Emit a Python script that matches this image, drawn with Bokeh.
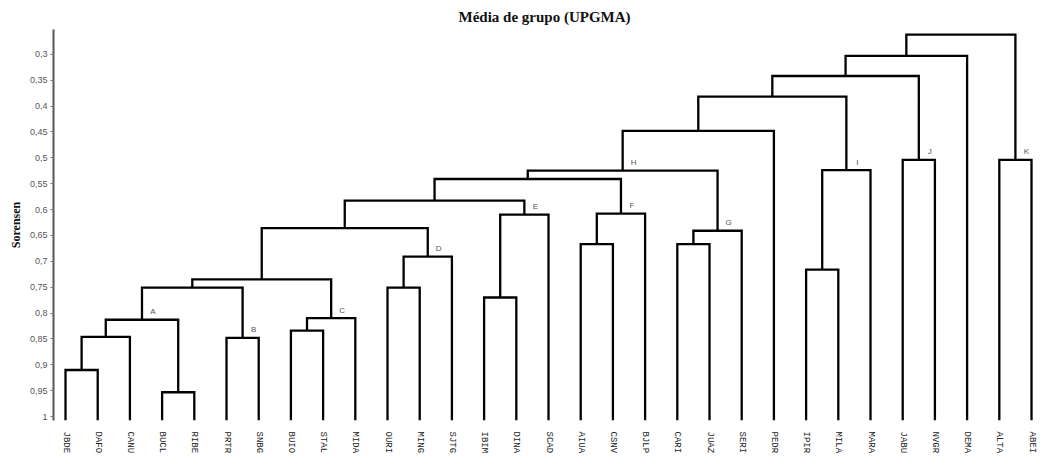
from bokeh.plotting import figure
from bokeh.models import Range1d, FixedTicker
from bokeh.embed import file_html
from bokeh.resources import INLINE
from bokeh.core.properties import value

# ---- data ----
leaves = ["JBDE", "DAFO", "CANU", "BUCL", "RIBE", "PRTR", "SNBG", "BUIO", "STAL", "MIDA",
          "OURI", "MING", "SJTG", "IBIM", "DINA", "SCAD", "AIUA", "CSNV", "BJLP", "CARI",
          "JUAZ", "SERI", "PEDR", "IPIR", "MILA", "MARA", "JABU", "NVGR", "DEMA", "ALTA", "ABEI"]

# merges: ids 0..30 are leaves, merge k gets id 31+k
merge_left = [0, 31, 3, 32, 5, 34, 7, 37, 36, 10, 40, 39, 13, 43, 42, 16, 46, 45, 19, 49,
              48, 51, 23, 53, 52, 26, 55, 57, 29, 58]
merge_right = [1, 2, 4, 33, 6, 35, 8, 9, 38, 11, 12, 41, 14, 15, 44, 17, 18, 47, 20, 21,
               50, 22, 24, 25, 54, 27, 56, 28, 30, 59]
merge_height = [0.910, 0.846, 0.953, 0.813, 0.848, 0.751, 0.834, 0.810, 0.735, 0.751,
                0.691, 0.636, 0.770, 0.610, 0.583, 0.667, 0.608, 0.541, 0.667, 0.641,
                0.525, 0.448, 0.716, 0.524, 0.382, 0.504, 0.342, 0.303, 0.504, 0.262]
merge_label = ["", "", "", "A", "B", "", "", "C", "", "", "D", "", "", "E", "", "", "F", "",
               "", "G", "H", "", "", "I", "", "J", "", "", "K", ""]

y_ticks = [0.3, 0.35, 0.4, 0.45, 0.5, 0.55, 0.6, 0.65, 0.7, 0.75, 0.8, 0.85, 0.9, 0.95, 1.0]
y_tick_labels = ["0,3", "0,35", "0,4", "0,45", "0,5", "0,55", "0,6", "0,65", "0,7", "0,75",
                 "0,8", "0,85", "0,9", "0,95", "1"]

# ---- layout constants ----
Y_BOTTOM = 1.0076
Y_TOP = 0.2522

n = len(leaves)
xpos = {i: float(i) for i in range(n)}
hpos = {i: Y_BOTTOM for i in range(n)}

xs, ys = [], []
lab_x, lab_y, lab_t = [], [], []

for k, (l, r, h, lab) in enumerate(zip(merge_left, merge_right, merge_height, merge_label)):
    cid = n + k
    xl, xr = xpos[l], xpos[r]
    xs.append([xl, xl, xr, xr])
    ys.append([hpos[l], h, h, hpos[r]])
    xpos[cid] = (xl + xr) / 2.0
    hpos[cid] = h
    if lab:
        lab_x.append(xpos[cid])
        lab_y.append(h)
        lab_t.append(lab)

p = figure(width=1037, height=456, output_backend="svg", toolbar_location=None,
           x_range=Range1d(-0.373, 30.186), y_range=Range1d(Y_BOTTOM, Y_TOP),
           title="Média de grupo (UPGMA)",
           min_border_left=53, min_border_right=0, min_border_top=29, min_border_bottom=27)

p.title.text_font = "Liberation Serif"
p.title.text_font_size = "15px"
p.title.text_font_style = "bold"
p.title.text_color = "#111111"
p.title.align = "left"
p.title.offset = 405
p.title.standoff = 10
p.title.vertical_align = "bottom"

p.xgrid.visible = False
p.ygrid.visible = False
p.outline_line_color = None
p.background_fill_color = "white"
p.border_fill_color = "white"

p.multi_line(xs, ys, line_color="black", line_width=2.3, line_join="miter")

p.text(x=lab_x, y=lab_y, text=lab_t, x_offset=11, y_offset=-8,
       text_font=value("Liberation Sans"), text_font_size="8px", text_color="#555555",
       text_align="center", text_baseline="middle")

# y axis
p.yaxis.ticker = FixedTicker(ticks=y_ticks)
p.yaxis.major_label_overrides = {t: s for t, s in zip(y_ticks, y_tick_labels)}
p.yaxis.axis_line_width = 2
p.yaxis.axis_line_color = "#555555"
p.yaxis.major_tick_out = 3
p.yaxis.major_tick_in = 0
p.yaxis.major_tick_line_color = "#777777"
p.yaxis.minor_tick_line_color = None
p.yaxis.major_label_text_font = "Liberation Sans"
p.yaxis.major_label_text_font_size = "9px"
p.yaxis.major_label_text_color = "#555555"
p.yaxis.major_label_standoff = 3
p.yaxis.axis_label = "Sorensen"
p.yaxis.axis_label_text_font = "Liberation Serif"
p.yaxis.axis_label_text_font_style = "bold"
p.yaxis.axis_label_text_font_size = "12px"
p.yaxis.axis_label_text_color = "#111111"
p.yaxis.axis_label_standoff = 4

# x axis (leaf names)
p.xaxis.ticker = FixedTicker(ticks=list(range(n)))
p.xaxis.major_label_overrides = {i: name for i, name in enumerate(leaves)}
p.xaxis.major_label_orientation = "vertical"
p.xaxis.axis_line_color = None
p.xaxis.major_tick_line_color = None
p.xaxis.minor_tick_line_color = None
p.xaxis.major_label_text_font = "Liberation Mono"
p.xaxis.major_label_text_font_size = "9px"
p.xaxis.major_label_text_color = "#222222"
p.xaxis.major_label_standoff = 5

open("out.html", "w").write(file_html(p, INLINE))
